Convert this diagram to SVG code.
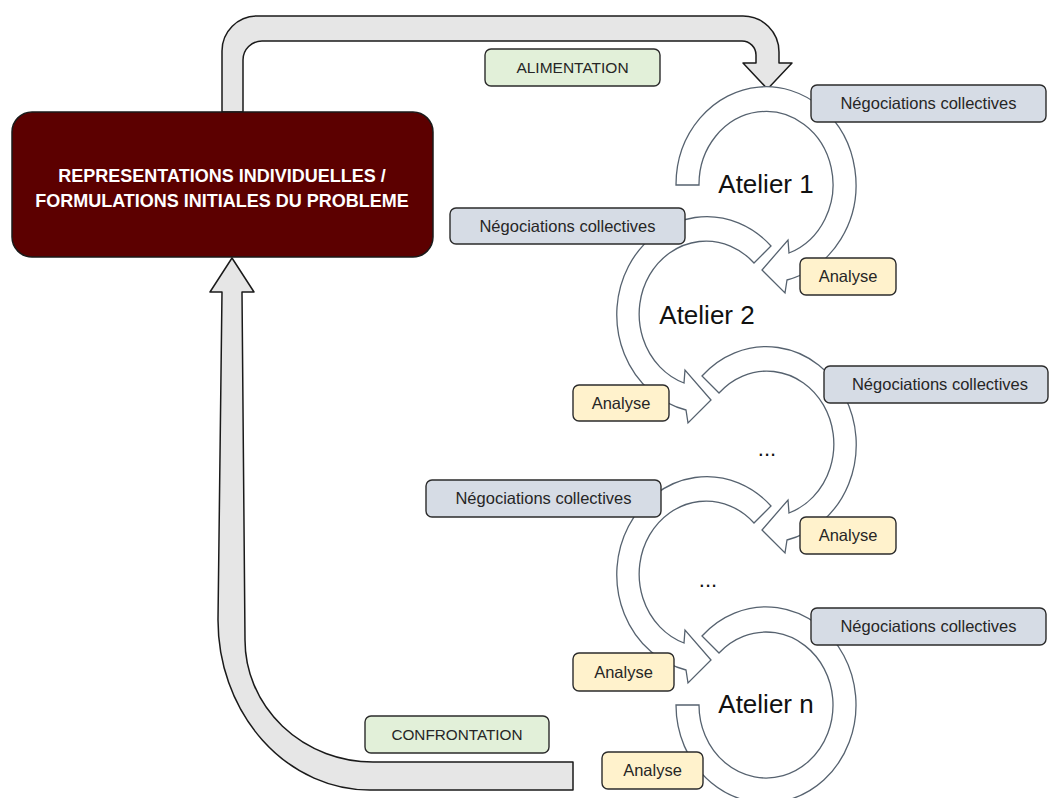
<svg xmlns="http://www.w3.org/2000/svg" width="1050" height="798" viewBox="0 0 1050 798">
<style>
.big{fill:#e6e6e6;stroke:#1a1a1a;stroke-width:1.5;stroke-linejoin:round}
.ring{fill:#ffffff;stroke:#56626f;stroke-width:1.3;stroke-linejoin:miter}
.lbl{stroke:#2b2b2b;stroke-width:1.4}
.neg{fill:#d6dce5}
.ana{fill:#fff2cc}
.grn{fill:#e2f0d9}
.t{font-family:"Liberation Sans",Arial,sans-serif;fill:#262626;text-anchor:middle}
.s{font-size:16.5px}
.at{font-size:26px;fill:#111}
.dots{font-size:22px;fill:#111}
.main{font-family:"Liberation Sans",Arial,sans-serif;font-weight:bold;font-size:18px;fill:#ffffff;text-anchor:middle}
</style>
<rect width="1050" height="798" fill="#ffffff"/>
<g id="connectors">
<path id="alimentation-arrow" class="big" d="M222 112 L222 51 A35 35 0 0 1 257 16 L743 16 A36 36 0 0 1 779 52 L779 63 L792 63 L767.5 89 L743 63 L756 63 L756 55 A14 14 0 0 0 742 41 L262 41 A19 19 0 0 0 243 60 L243 112 Z"/>
<path id="confrontation-arrow" class="big" d="M573 762 L373 762 A128 122 0 0 1 245 640 L242 292 L254 292 L232 258 L210 292 L222 292 L218 620 A152 170 0 0 0 370 790 L573 790 Z"/>
<path id="cycle1" class="ring" d="M676 185 A90 98 0 1 1 787 280 L785 293 L762 270 L788 240 L789 253 A67 73 0 1 0 699 185 Z"/>
<path id="cycle2" class="ring" d="M771 246 A90 98 0 1 0 686 410 L688 423 L711 400 L685 370 L684 383 A67 73 0 1 1 754 263 Z"/>
<path id="cycle3" class="ring" d="M702 376 A90 98 0 1 1 787 540 L785 553 L762 530 L788 500 L789 513 A67 73 0 1 0 719 393 Z"/>
<path id="cycle4" class="ring" d="M771 506 A90 98 0 1 0 686 670 L688 683 L711 660 L685 630 L684 643 A67 73 0 1 1 754 523 Z"/>
<path id="cycle5" class="ring" d="M676 705 A90 98 0 1 0 702 636 L719 653 A67 73 0 1 1 699 705 Z"/>
</g>
<g id="node-main">
<rect x="12" y="112" width="421" height="145" rx="20" fill="#5c0000" stroke="#1a1a1a" stroke-width="1.5"/>
<text class="main" x="222" y="182">REPRESENTATIONS INDIVIDUELLES /</text>
<text class="main" x="222" y="207">FORMULATIONS INITIALES DU PROBLEME</text>
</g>
<g id="atelier1"><text class="t at" x="766" y="193">Atelier 1</text></g>
<g id="atelier2"><text class="t at" x="707" y="324">Atelier 2</text></g>
<g id="atelier3"><text class="t dots" x="767" y="456">...</text></g>
<g id="atelier4"><text class="t dots" x="708" y="587">...</text></g>
<g id="ateliern"><text class="t at" x="766" y="713">Atelier n</text></g>
<g id="label-alimentation">
<rect class="lbl grn" x="485" y="49" width="175" height="37" rx="6"/>
<text class="t" x="572.5" y="73" font-size="15.5">ALIMENTATION</text>
</g>
<g id="label-confrontation">
<rect class="lbl grn" x="365" y="716" width="184" height="37" rx="6"/>
<text class="t" x="457" y="740" font-size="15.3">CONFRONTATION</text>
</g>
<g id="neg1"><rect class="lbl neg" x="811" y="85" width="235" height="37" rx="6"/><text class="t s" x="928.5" y="109">Négociations collectives</text></g>
<g id="neg2"><rect class="lbl neg" x="450" y="208" width="235" height="36" rx="6"/><text class="t s" x="567.5" y="232">Négociations collectives</text></g>
<g id="neg3"><rect class="lbl neg" x="824" y="366" width="224" height="37" rx="6"/><text class="t s" x="940" y="390">Négociations collectives</text></g>
<g id="neg4"><rect class="lbl neg" x="426" y="480" width="235" height="37" rx="6"/><text class="t s" x="543.5" y="504">Négociations collectives</text></g>
<g id="neg5"><rect class="lbl neg" x="811" y="608" width="235" height="37" rx="6"/><text class="t s" x="928.5" y="632">Négociations collectives</text></g>
<g id="ana1"><rect class="lbl ana" x="800" y="258" width="96" height="37" rx="6"/><text class="t s" x="848" y="282">Analyse</text></g>
<g id="ana2"><rect class="lbl ana" x="573" y="385" width="96" height="36" rx="6"/><text class="t s" x="621" y="409">Analyse</text></g>
<g id="ana3"><rect class="lbl ana" x="800" y="517" width="96" height="37" rx="6"/><text class="t s" x="848" y="541">Analyse</text></g>
<g id="ana4"><rect class="lbl ana" x="573" y="653" width="101" height="38" rx="6"/><text class="t s" x="623.5" y="678">Analyse</text></g>
<g id="ana5"><rect class="lbl ana" x="602" y="752" width="101" height="37" rx="6"/><text class="t s" x="652.5" y="776">Analyse</text></g>
</svg>
